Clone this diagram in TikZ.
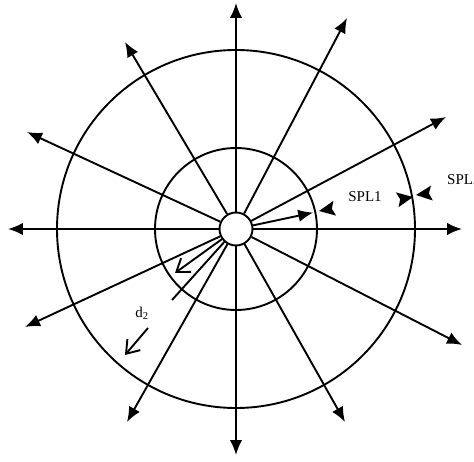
\documentclass[tikz,border=0pt]{standalone}
\usepackage{fontspec}
\setmainfont{Liberation Serif}
\usetikzlibrary{arrows.meta}
\begin{document}
\begin{tikzpicture}[x=1pt,y=1pt,
  ray/.style={line width=1.9pt, -{Latex[length=15pt,width=12.5pt]}},
  ring/.style={line width=1.9pt},
  openarrow/.style={line width=1.9pt, -{Straight Barb[length=12pt,width=17pt]}},
  lbl/.style={font=\fontsize{15}{17}\selectfont, inner sep=0pt},
  spltri/.pic={\fill (0,0) -- (-16,7.5) -- (-13,0) -- (-16,-7.5) -- cycle;}]
\useasboundingbox[fill=white] (-236,-232) rectangle (238,229);
\node[circle, draw, line width=1.9pt, minimum size=33pt, inner sep=0pt] (c) at (0,0) {};
\draw[ring] (0,0) circle (81);
\draw[ring] (0,0) circle (179);
% ray tips
\coordinate (t0) at (226,0);
\coordinate (t1) at (210,112);
\coordinate (t2) at (111,211);
\coordinate (t3) at (0,226);
\coordinate (t4) at (-111,187);
\coordinate (t5) at (-209,97);
\coordinate (t6) at (-228,0);
\coordinate (t7) at (-211,-98);
\coordinate (t8) at (-109,-193);
\coordinate (t9) at (0,-226);
\coordinate (t10) at (109,-193);
\coordinate (t11) at (226,-116);
\foreach \n in {t0,t1,t2,t3,t4,t5,t6,t7,t8,t9,t10,t11}
  \draw[ray] (c) -- (\n);
% SPL1 measuring ray
\coordinate (s1) at (12:79);
\draw[ray] (c) -- (s1);
\pic[rotate=190] at (83,18) {spltri};
\pic[rotate=10] at (177,32) {spltri};
\pic[rotate=187] at (180,34) {spltri};
\node[lbl] (l1) at (129,32) {SPL1};
\node[lbl, anchor=west] (l2) at (211,49) {SPL2};
% d2 markers
\coordinate (oa) at (-61,-44);
\coordinate (ob) at (-64,-71);
\coordinate (d2s) at (-88,-99);
\coordinate (d2e) at (-111,-126);
\draw[openarrow] (c) -- (oa);
\draw[ring] (c) -- (ob);
\draw[openarrow] (d2s) -- (d2e);
\node[lbl] (ld) at (-94,-84) {d\textsubscript{2}};
\end{tikzpicture}
\end{document}
